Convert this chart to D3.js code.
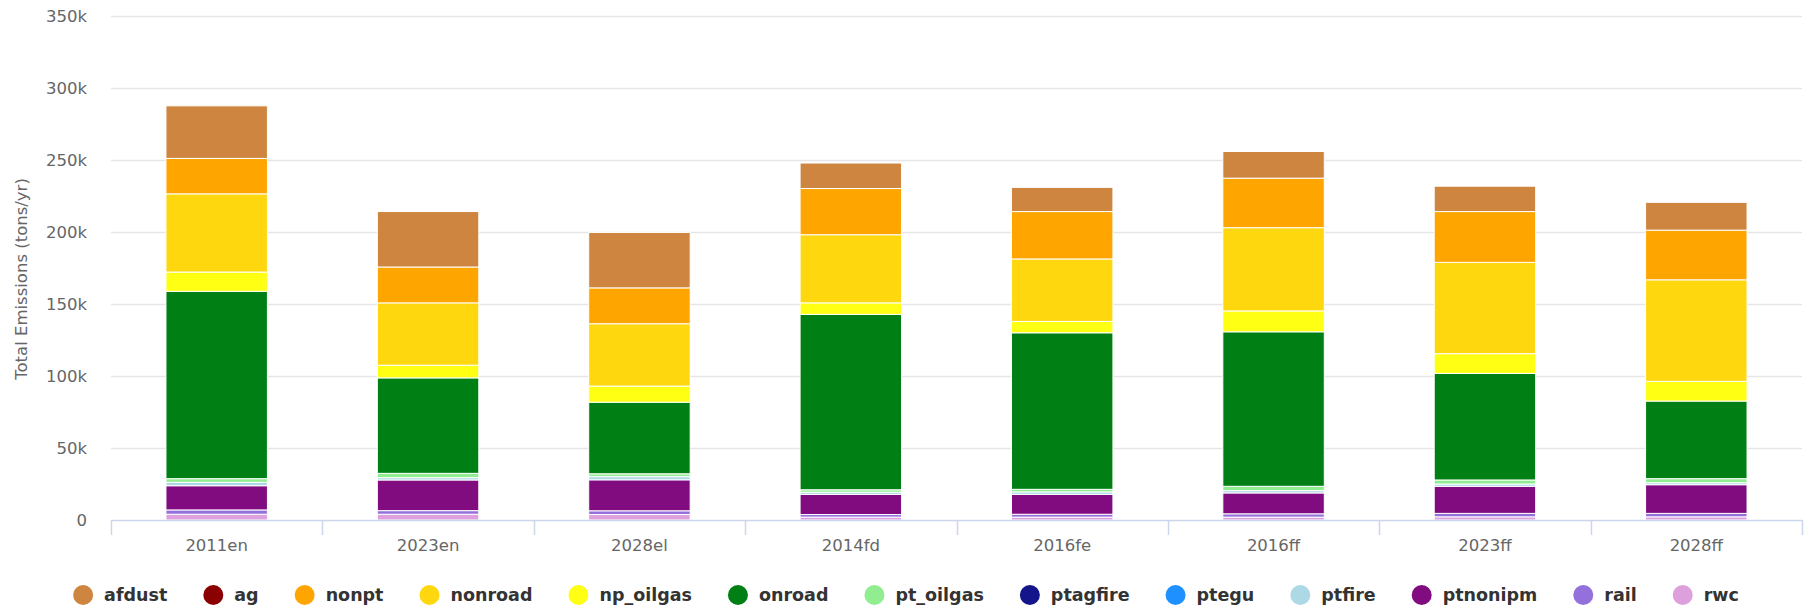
<!DOCTYPE html>
<html>
<head>
<meta charset="utf-8">
<script src="https://cdn.jsdelivr.net/npm/d3@7"></script>
<style>
  html, body { margin: 0; padding: 0; background: #ffffff; }
  svg { display: block; font-family: "DejaVu Sans", sans-serif; }
</style>
</head>
<body>
<svg id="chart" width="1812" height="608"></svg>
<script>
// ---- data (values in thousand tons/yr) ----
const categories = ["2011en", "2023en", "2028el", "2014fd", "2016fe", "2016ff", "2023ff", "2028ff"];
const seriesNames = ["afdust", "ag", "nonpt", "nonroad", "np_oilgas", "onroad", "pt_oilgas", "ptagfire", "ptegu", "ptfire", "ptnonipm", "rail", "rwc"];
const seriesColors = ["#CD853F", "#8B0000", "#FFA500", "#FFD70F", "#FFFF14", "#008014", "#90EE90", "#14148B", "#1E90FF", "#ADD8E6", "#800C80", "#9370DB", "#DDA0DD"];
const afdust    = [36.5, 38.5, 38.5, 17.7, 16.8, 18.5, 17.6, 19.3];
const ag        = [0, 0, 0, 0, 0, 0, 0, 0];
const nonpt     = [24.6, 24.9, 24.9, 32.1, 32.9, 34.4, 35.3, 34.5];
const nonroad   = [54.3, 43.3, 43.3, 47.3, 43.4, 57.8, 63.4, 70.5];
const np_oilgas = [13.4, 8.8, 11.2, 8.0, 7.9, 14.5, 13.7, 13.7];
const onroad    = [130.1, 66.3, 49.7, 121.8, 108.7, 107.3, 74.0, 53.9];
const pt_oilgas = [2.5, 3.0, 2.0, 1.7, 1.8, 3.0, 2.8, 2.8];
const ptagfire  = [0, 0, 0, 0, 0, 0, 0, 0];
const ptegu     = [0, 0, 0, 0, 0, 0, 0, 0];
const ptfire    = [2.4, 1.6, 2.2, 1.5, 1.7, 1.6, 1.6, 1.4];
const ptnonipm  = [16.8, 21.3, 21.5, 14.0, 13.8, 14.5, 18.8, 19.9];
const rail      = [3.0, 2.5, 2.6, 1.8, 2.0, 2.3, 2.4, 2.4];
const rwc       = [4.0, 4.0, 3.8, 2.0, 2.0, 2.0, 2.2, 2.2];
const yTicks = [0, 50, 100, 150, 200, 250, 300, 350];
const yTickLabels = ["0", "50k", "100k", "150k", "200k", "250k", "300k", "350k"];
const yTitle = "Total Emissions (tons/yr)";

const seriesValues = [afdust, ag, nonpt, nonroad, np_oilgas, onroad, pt_oilgas, ptagfire, ptegu, ptfire, ptnonipm, rail, rwc];

// ---- layout ----
const svg = d3.select("#chart");
const plot = { left: 111, right: 1802, top: 16, bottom: 520 };

const x = d3.scaleBand().domain(categories).range([plot.left, plot.right]).paddingInner(0).paddingOuter(0);
const y = d3.scaleLinear().domain([0, 350]).range([plot.bottom, plot.top]);
const barW = x.bandwidth() * 0.48;

// table for stacking
const table = categories.map((c, i) => {
  const row = { cat: c };
  seriesNames.forEach((s, j) => row[s] = seriesValues[j][i]);
  return row;
});
const colorOf = d3.scaleOrdinal().domain(seriesNames).range(seriesColors);
// bottom-to-top order is reverse of legend order
const stack = d3.stack().keys(seriesNames.slice().reverse());
const stacked = stack(table);

// gridlines
const yAxisG = svg.append("g");
yAxisG.selectAll("line.grid").data(yTicks.filter(d => d > 0)).join("line")
  .attr("class", "grid")
  .attr("x1", plot.left).attr("x2", plot.right)
  .attr("y1", d => Math.round(y(d)) + 0.5).attr("y2", d => Math.round(y(d)) + 0.5)
  .attr("stroke", "#e6e6e6").attr("stroke-width", 1.5);

// y tick labels
yAxisG.selectAll("text.ylab").data(yTicks).join("text")
  .attr("class", "ylab")
  .attr("x", 87).attr("y", d => y(d))
  .attr("dy", "0.35em")
  .attr("text-anchor", "end")
  .attr("fill", "#666666")
  .attr("font-size", "16.5px")
  .text((d, i) => yTickLabels[i]);

// y title
svg.append("text")
  .attr("transform", "translate(27,279) rotate(-90)")
  .attr("text-anchor", "middle")
  .attr("fill", "#666666")
  .attr("font-size", "16.5px")
  .text(yTitle);

// bars
const barsG = svg.append("g");
barsG.selectAll("g.series").data(stacked).join("g")
  .attr("class", "series")
  .attr("fill", d => colorOf(d.key))
  .selectAll("rect").data(d => d.filter(p => p[1] - p[0] > 0)).join("rect")
  .attr("x", d => x(d.data.cat) + (x.bandwidth() - barW) / 2)
  .attr("width", barW)
  .attr("y", d => y(d[1]))
  .attr("height", d => Math.max(0, y(d[0]) - y(d[1])))
  .attr("stroke", "#ffffff")
  .attr("stroke-width", 1);

// x axis line and ticks
const xAxisG = svg.append("g");
xAxisG.append("line")
  .attr("x1", plot.left).attr("x2", plot.right)
  .attr("y1", plot.bottom + 0.5).attr("y2", plot.bottom + 0.5)
  .attr("stroke", "#ccd6eb").attr("stroke-width", 1.5);
const boundaries = categories.map(c => x(c)).concat([plot.right]);
xAxisG.selectAll("line.tick").data(boundaries).join("line")
  .attr("class", "tick")
  .attr("x1", d => Math.round(d) + 0.5).attr("x2", d => Math.round(d) + 0.5)
  .attr("y1", plot.bottom).attr("y2", plot.bottom + 15)
  .attr("stroke", "#ccd6eb").attr("stroke-width", 1.5);
xAxisG.selectAll("text.xlab").data(categories).join("text")
  .attr("class", "xlab")
  .attr("x", d => x(d) + x.bandwidth() / 2)
  .attr("y", 551)
  .attr("text-anchor", "middle")
  .attr("fill", "#666666")
  .attr("font-size", "16.5px")
  .text(d => d);

// legend
const legendG = svg.append("g");
const items = legendG.selectAll("g.item").data(seriesNames).join("g").attr("class", "item");
items.append("circle").attr("r", 10).attr("cx", 0).attr("cy", 0).attr("fill", d => colorOf(d));
items.append("text")
  .attr("x", 21).attr("y", 0).attr("dy", "0.32em")
  .attr("fill", "#333333")
  .attr("font-size", "17.5px")
  .attr("font-weight", "bold")
  .text(d => d);
// flow layout
let cursor = 0;
const positions = [];
items.each(function(d, i) {
  const w = d3.select(this).select("text").node().getComputedTextLength();
  positions.push(cursor);
  cursor += 21 + w + 46;
});
const totalW = cursor - 46 + 10;
const startX = (1812 - totalW) / 2 + 10;
items.attr("transform", (d, i) => `translate(${startX + positions[i]},595)`);
</script>
</body>
</html>
